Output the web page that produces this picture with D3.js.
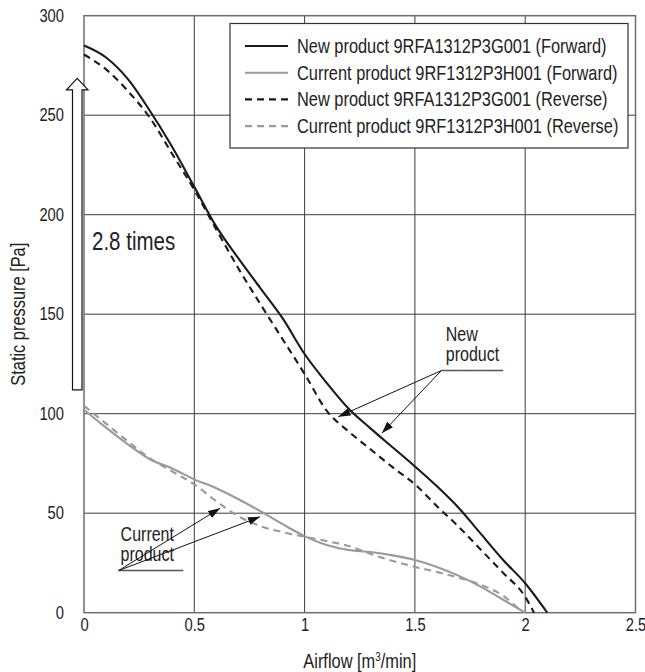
<!DOCTYPE html>
<html>
<head>
<meta charset="utf-8">
<script src="https://cdn.jsdelivr.net/npm/d3@7"></script>
<style>
  body { margin: 0; background: #fff; }
  svg text { font-family: "Liberation Sans", Arial, sans-serif; fill: #222; }
</style>
</head>
<body>
<div id="chart"></div>
<script>
(function () {

  // airflow [m3/min] / static pressure [Pa]
  var flowNewFwd = [0, 0.1, 0.2, 0.3, 0.4, 0.5, 0.6, 0.7, 0.8, 0.9, 1.0, 1.1, 1.2, 1.3, 1.4, 1.5, 1.6, 1.7, 1.8, 1.9, 2.0, 2.1]
  var newForward = [285, 279, 268, 252, 234, 214, 194, 178, 163, 148, 130, 115.5, 102.5, 92.5, 83, 73.5, 63.5, 52.5, 39.5, 26.5, 14.8, 0]

  var flowNewRev = [0, 0.1, 0.2, 0.3, 0.4, 0.5, 0.6, 0.7, 0.8, 0.9, 1.0, 1.1, 1.2, 1.3, 1.4, 1.5, 1.6, 1.7, 1.8, 1.9, 2.0, 2.04]
  var newReverse = [280.5, 273, 262, 248.5, 230.5, 212.5, 192.5, 173, 155, 137.5, 120, 101.5, 91, 82, 73, 64.5, 53.5, 43, 31.5, 20, 8, 0]

  var flowCurFwd = [0, 0.1, 0.2, 0.3, 0.4, 0.5, 0.6, 0.7, 0.8, 0.9, 1.0, 1.1, 1.2, 1.3, 1.4, 1.5, 1.6, 1.7, 1.8, 1.9, 2.0]
  var curForward = [102, 93, 84.5, 77, 72.5, 67, 62.5, 57, 51, 44.5, 38.5, 34, 31.5, 30.5, 28.8, 26.5, 23, 18.5, 13, 6.5, 0]

  var flowCurRev = [0, 0.1, 0.2, 0.3, 0.4, 0.5, 0.6, 0.7, 0.8, 0.9, 1.0, 1.1, 1.2, 1.3, 1.4, 1.5, 1.6, 1.7, 1.8, 1.9, 1.97]
  var curReverse = [104, 95, 86, 77.5, 71, 64.5, 56, 48.5, 43.5, 40.5, 38.2, 36, 33.5, 29.5, 26, 23, 20.5, 17.5, 14, 8.5, 2]

  var xTicks = [0, 0.5, 1, 1.5, 2, 2.5]
  var yTicks = [0, 50, 100, 150, 200, 250, 300]

  var seriesNames = [
    "New product 9RFA1312P3G001 (Forward)",
    "Current product 9RF1312P3H001 (Forward)",
    "New product 9RFA1312P3G001 (Reverse)",
    "Current product 9RF1312P3H001 (Reverse)"
  ]

  // no condensed face installed, so squeeze the regular one
  var NARROW = 0.82

  var width = 645, height = 672
  var margin = { top: 15.7, right: 9.5, bottom: 59.3, left: 84 }

  var svg = d3.select("#chart").append("svg")
      .attr("width", width)
      .attr("height", height)

  var x = d3.scaleLinear().domain([0, 2.5]).range([margin.left, width - margin.right])
  var y = d3.scaleLinear().domain([0, 300]).range([height - margin.bottom, margin.top])

  var gridColor = "#3c3c3c", lightGrey = "#9a9a9a"

  var series = [
    { flow: flowNewFwd, p: newForward, color: "#1a1a1a", dash: null },
    { flow: flowCurFwd, p: curForward, color: lightGrey, dash: null },
    { flow: flowNewRev, p: newReverse, color: "#1a1a1a", dash: "7,5" },
    { flow: flowCurRev, p: curReverse, color: lightGrey, dash: "7,5" }
  ]

  function narrowText(parent, px, py, size) {
    return parent.append("text")
      .attr("transform", "translate(" + px + "," + py + ") scale(" + NARROW + ",1)")
      .attr("font-size", size)
  }

  // grid
  svg.selectAll(".vgrid")
    .data(xTicks.slice(1, -1))
    .enter().append("line")
    .attr("x1", function(d) { return x(d) })
    .attr("x2", function(d) { return x(d) })
    .attr("y1", y(300))
    .attr("y2", y(0))
    .attr("stroke", gridColor)
    .attr("stroke-width", 1)

  svg.selectAll(".hgrid")
    .data(yTicks.slice(1, -1))
    .enter().append("line")
    .attr("x1", x(0))
    .attr("x2", x(2.5))
    .attr("y1", function(d) { return y(d) })
    .attr("y2", function(d) { return y(d) })
    .attr("stroke", gridColor)
    .attr("stroke-width", 1)

  svg.append("rect")
    .attr("x", x(0))
    .attr("y", y(300))
    .attr("width", x(2.5) - x(0))
    .attr("height", y(0) - y(300))
    .attr("fill", "none")
    .attr("stroke", "#6e6e6e")
    .attr("stroke-width", 1.5)

  // axes (labels only)
  var xAxis = svg.append("g")
      .attr("transform", "translate(0," + y(0) + ")")
      .call(d3.axisBottom(x).tickValues(xTicks).tickSize(0).tickPadding(5.5).tickFormat(d3.format("~g")))
  var yAxis = svg.append("g")
      .attr("transform", "translate(" + x(0) + ",0)")
      .call(d3.axisLeft(y).tickValues(yTicks).tickSize(0).tickPadding(20))
  xAxis.select(".domain").remove()
  yAxis.select(".domain").remove()
  svg.selectAll(".tick text")
    .attr("font-size", 18)
    .attr("fill", "#222")
    .attr("font-family", "Liberation Sans, Arial, sans-serif")
    .attr("transform", "scale(" + NARROW + ",1)")
  yAxis.selectAll(".tick text").attr("x", -20 / NARROW)

  narrowText(svg, (x(0) + x(2.5)) / 2, 668, 20)
    .attr("text-anchor", "middle")
    .html('Airflow [m<tspan font-size="12" dy="-7">3</tspan><tspan dy="7">/min]</tspan>')

  svg.append("text")
    .attr("transform", "translate(25," + (y(0) + y(300)) / 2 + ") rotate(-90) scale(" + NARROW + ",1)")
    .attr("text-anchor", "middle")
    .attr("font-size", 20)
    .text("Static pressure [Pa]")

  // curves
  var line = d3.line()
      .x(function(d) { return x(d[0]) })
      .y(function(d) { return y(d[1]) })
      .curve(d3.curveMonotoneX)

  svg.selectAll(".curve")
    .data(series.slice().reverse())
    .enter().append("path")
    .attr("class", "curve")
    .attr("d", function(s) { return line(d3.zip(s.flow, s.p)) })
    .attr("fill", "none")
    .attr("stroke", function(s) { return s.color })
    .attr("stroke-width", 2.1)
    .attr("stroke-dasharray", function(s) { return s.dash })

  // 2.8 times arrow
  var ax = x(0)
  var arrowPts = [
    [ax - 11.5, y(112)], [ax - 11.5, y(262.7)], [ax - 17.5, y(262.7)],
    [ax - 6.8, y(268.5)], [ax + 4, y(262.7)], [ax - 2, y(262.7)], [ax - 2, y(112)]
  ]
  svg.append("path")
    .attr("d", d3.line()(arrowPts) + "Z")
    .attr("fill", "#fff")
    .attr("stroke", "#111")
    .attr("stroke-width", 1.2)

  narrowText(svg, 92, 250, 25).text("2.8 times")

  // legend
  var legend = svg.append("g")
  legend.append("rect")
    .attr("x", 230)
    .attr("y", 23.5)
    .attr("width", 398)
    .attr("height", 124.5)
    .attr("fill", "#fff")
    .attr("stroke", "#333")
    .attr("stroke-width", 1.2)

  var rows = legend.selectAll(".row")
    .data(seriesNames)
    .enter().append("g")
    .attr("transform", function(d, i) { return "translate(0," + (46 + i * 26.7) + ")" })

  rows.append("line")
    .attr("x1", 245)
    .attr("x2", 288)
    .attr("stroke", function(d, i) { return series[i].color })
    .attr("stroke-width", 2.1)
    .attr("stroke-dasharray", function(d, i) { return series[i].dash })

  rows.each(function(d) {
    narrowText(d3.select(this), 297, 0, 20)
      .attr("dy", "0.35em")
      .text(d)
  })

  // callouts
  svg.append("defs").append("marker")
    .attr("id", "head")
    .attr("viewBox", "0 0 12 8")
    .attr("refX", 12)
    .attr("refY", 4)
    .attr("markerWidth", 12)
    .attr("markerHeight", 8)
    .attr("markerUnits", "userSpaceOnUse")
    .attr("orient", "auto")
    .append("path")
    .attr("d", "M0,0L12,4L0,8Z")
    .attr("fill", "#111")

  var callouts = [
    { lines: ["New", "product"], at: [1.64, 136.5], bar: [1.62, 1.9], tips: [[1.153, 98.5], [1.35, 90.2]] },
    { lines: ["Current", "product"], at: [0.166, 36], bar: [0.157, 0.45], tips: [[0.617, 52.5], [0.798, 48.2]] }
  ]

  callouts.forEach(function(c) {
    var by = y(c.at[1]) + 29.5
    c.lines.forEach(function(t, i) {
      narrowText(svg, x(c.at[0]), y(c.at[1]) + i * 20, 19.5).text(t)
    })
    svg.append("line")
      .attr("x1", x(c.bar[0])).attr("x2", x(c.bar[1]))
      .attr("y1", by).attr("y2", by)
      .attr("stroke", "#555").attr("stroke-width", 1.5)
    c.tips.forEach(function(tp) {
      svg.append("line")
        .attr("x1", x(c.bar[0])).attr("y1", by)
        .attr("x2", x(tp[0])).attr("y2", y(tp[1]))
        .attr("stroke", "#111").attr("stroke-width", 1)
        .attr("marker-end", "url(#head)")
    })
  })

})()
</script>
</body>
</html>
